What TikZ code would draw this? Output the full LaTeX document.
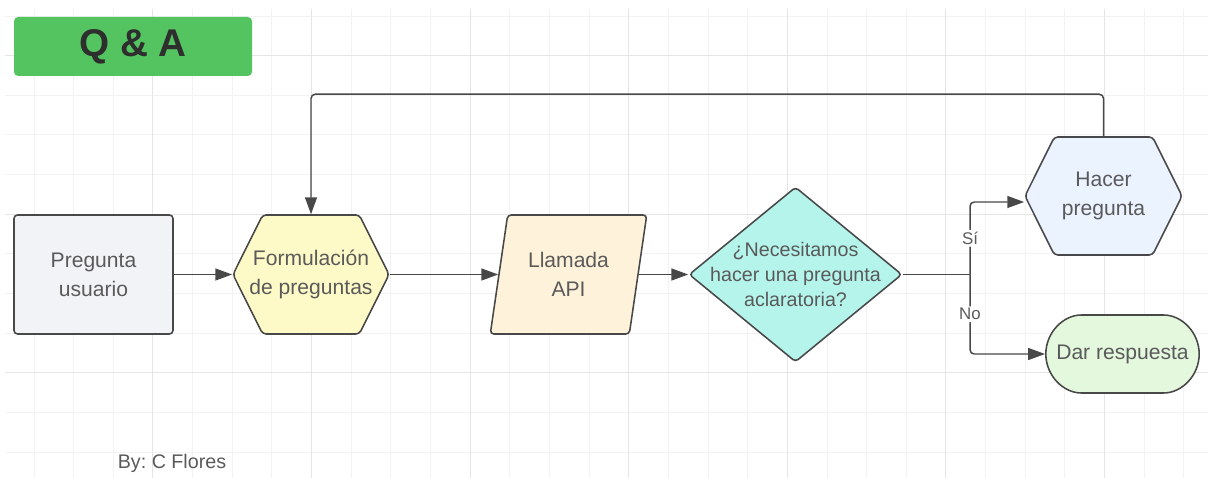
\documentclass[tikz,border=0pt]{standalone}
\usepackage{fontspec}
\setmainfont{Liberation Sans}
\usetikzlibrary{shapes.geometric,shapes.symbols,shapes.misc,arrows.meta}
\definecolor{gridminor}{RGB}{242,242,242}
\definecolor{gridmajor}{RGB}{229,229,229}
\definecolor{edge}{RGB}{72,72,72}
\definecolor{txtgray}{RGB}{90,90,90}
\definecolor{qagreen}{RGB}{84,196,97}
\definecolor{usergray}{RGB}{242,243,246}
\definecolor{formyellow}{RGB}{253,250,200}
\definecolor{apipeach}{RGB}{255,242,218}
\definecolor{deccyan}{RGB}{180,244,235}
\definecolor{askblue}{RGB}{234,243,255}
\definecolor{ansgreen}{RGB}{227,248,221}
\frenchspacing

\begin{document}
\begin{tikzpicture}[x=0.025cm,y=-0.025cm,
  box/.style={draw=edge,line width=1.1pt,rounded corners=2.5pt,inner sep=2pt},
  txt/.style={align=center,text=txtgray,font=\fontsize{15}{20.5}\selectfont},
  dectxt/.style={align=center,text=txtgray,font=\fontsize{14}{18}\selectfont},
  hexa/.style={box,signal,signal to=east and west,signal pointer angle=127,
    minimum width=156*0.025cm,minimum height=119*0.025cm},
  conn/.style={draw=edge,line width=1.05pt,rounded corners=3pt,-{Triangle[length=12pt,width=8.5pt]}},
  link/.style={draw=edge,line width=1.05pt},
  lbl/.style={fill=white,inner sep=1.5pt,text=txtgray,font=\fontsize{12}{14}\selectfont}]

  \useasboundingbox (0,0) rectangle (1208,478);

  % grid
  \foreach \k in {0,...,29}{
    \draw[gridminor,line width=0.7pt] ({34+39.65*\k},9) -- ({34+39.65*\k},478);
  }
  \foreach \k in {0,...,11}{
    \draw[gridminor,line width=0.7pt] (5,{16+39.65*\k}) -- (1208,{16+39.65*\k});
  }
  \foreach \k in {3,7,...,27}{
    \draw[gridmajor,line width=0.7pt] ({34+39.65*\k},9) -- ({34+39.65*\k},478);
  }
  \foreach \k in {1,5,9}{
    \draw[gridmajor,line width=0.7pt] (5,{16+39.65*\k}) -- (1208,{16+39.65*\k});
  }

  % title and credit
  \node[fill=qagreen,rounded corners=3pt,minimum width=238*0.025cm,minimum height=59*0.025cm,
        text=black!82,font=\bfseries\fontsize{27.5}{30}\selectfont] (qa) at (133,46.5) {Q \& A};
  \node[text=txtgray,font=\fontsize{14}{16}\selectfont] (by) at (172,463) {By: C Flores};

  % flow
  \node[box,fill=usergray,minimum width=159*0.025cm,minimum height=119*0.025cm,txt] (pregunta) at (93.5,274.5) {Pregunta\\usuario};
  \node[hexa,fill=formyellow,label={[txt]center:Formulación\\de preguntas}] (formul) at (311,274.5) {};
  \node[box,fill=apipeach,trapezium,trapezium left angle=76,trapezium right angle=104,trapezium stretches=true,
        minimum width=157*0.025cm,minimum height=119*0.025cm,txt] (llamada) at (568.5,274.5) {Llamada\\API};
  \node[box,fill=deccyan,diamond,inner sep=0pt,minimum width=213*0.025cm,minimum height=175*0.025cm,
        label={[dectxt]center:¿Necesitamos\\hacer una pregunta\\aclaratoria?}] (dec) at (795.5,274.5) {};
  \node[hexa,fill=askblue,minimum width=157*0.025cm,minimum height=118*0.025cm,
        label={[txt]center:Hacer\\pregunta}] (hacer) at (1103.5,196) {};
  \node[box,fill=ansgreen,rounded rectangle,minimum width=159*0.025cm,minimum height=78*0.025cm,txt] (dar) at (1122.5,354) {Dar respuesta};

  \coordinate (split) at (970,274.5);

  \draw[conn] (pregunta.east) -- (formul.west);
  \draw[conn] (formul.east) -- (llamada.left side);
  \draw[conn] (llamada.right side) -- (dec.west);
  \draw[link] (dec.east) -- (split);
  \draw[conn] (split) |- node[lbl,pos=.25]{Sí} ([yshift=-0.15cm]hacer.west);
  \draw[conn] (split) |- node[lbl,pos=.25]{No} (dar.west);
  \draw[conn] (hacer.north) -- ++(0,-42) -| (formul.north);

\end{tikzpicture}
\end{document}
